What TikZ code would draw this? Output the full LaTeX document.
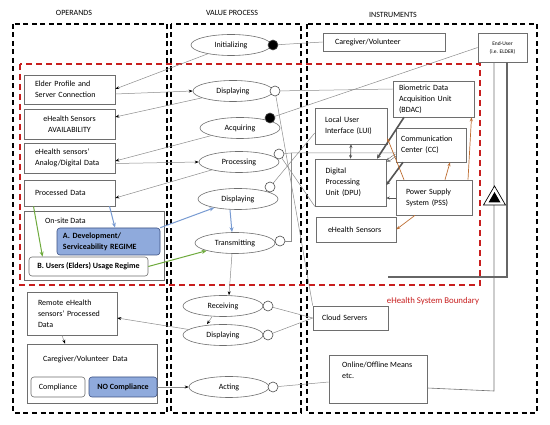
\documentclass[tikz,border=0pt]{standalone}
\usepackage{fontspec}
\setmainfont{Carlito}
\usetikzlibrary{shapes.geometric,arrows.meta}
\definecolor{boxline}{RGB}{110,110,110}
\definecolor{connline}{RGB}{140,140,140}
\definecolor{bluefill}{RGB}{143,170,220}
\definecolor{blueline}{RGB}{60,80,130}
\definecolor{bluearrow}{RGB}{120,155,210}
\definecolor{greenarrow}{RGB}{110,170,60}
\definecolor{brownarrow}{RGB}{190,110,50}
\definecolor{boundred}{RGB}{200,30,30}
\definecolor{thickgray}{RGB}{85,85,85}
\begin{document}
\begin{tikzpicture}[x=1pt,y=-1pt,
  font=\fontsize{8}{11}\selectfont,
  box/.style={draw=boxline, line width=0.6pt, fill=white, inner sep=0pt, rectangle},
  rbox/.style={box, rounded corners=3pt},
  bluebox/.style={rbox, fill=bluefill, draw=blueline, font=\fontsize{8}{11}\selectfont\bfseries},
  proc/.style={ellipse, draw=boxline, line width=0.6pt, fill=white, minimum width=80, minimum height=21, inner sep=0pt},
  port/.style={circle, draw=black!70, line width=0.6pt, fill=white, minimum size=10, inner sep=0pt},
  bport/.style={port, fill=black},
  grp/.style={draw=black, line width=1.6pt, dash pattern=on 5pt off 3.5pt},
  conn/.style={draw=connline, line width=0.5pt},
  arr/.style={conn, -{Stealth[black,length=4pt,width=3pt]}},
  barr/.style={draw=bluearrow, line width=1pt, -{Stealth[length=5pt,width=4pt]}},
  garr/.style={draw=greenarrow, line width=1pt, -{Stealth[length=5pt,width=4pt]}},
  brarr/.style={draw=brownarrow, line width=0.7pt, -{Stealth[length=4pt,width=3pt]}},
  thk/.style={draw=thickgray, line width=1.6pt},
  lbl/.style={inner sep=0pt}
]
\useasboundingbox (0,0) rectangle (550,425);
\fill[white] (0,0) rectangle (550,425);

% group boxes
\draw[grp] (13,24) rectangle (167,413);
\draw[grp] (171,24) rectangle (301,413);
\draw[grp] (307,24) rectangle (537,413);
\draw[draw=boundred, line width=1.6pt, dash pattern=on 6pt off 4pt] (20,64) rectangle (480,285);

\node[lbl] (hop) at (74,13) {OPERANDS};
\node[lbl] (hvp) at (232,13) {VALUE PROCESS};
\node[lbl] (hin) at (393,15) {INSTRUMENTS};
\node[lbl, text=boundred, font=\fontsize{8.8}{11}\selectfont] (hbound) at (433,301) {eHealth System Boundary};

% operands
\node[box, minimum width=91, minimum height=29, text width=69, align=left] (elder) at (69.5,89.5) {Elder Profile and\\Server Connection};
\node[box, minimum width=91, minimum height=30, align=center] (avail) at (69.5,124) {eHealth Sensors\\AVAILABILITY};
\node[box, minimum width=91, minimum height=30, text width=69, align=left] (adata) at (69.5,158) {eHealth sensors'\\Analog/Digital Data};
\node[box, minimum width=91, minimum height=26, text width=69, align=left] (pdata) at (69.5,193) {Processed Data};
\node[box, minimum width=140, minimum height=69] (onsite) at (94,245.5) {};
\node[lbl, anchor=west] (onsitelbl) at (45,221) {On-site Data};
\node[bluebox, minimum width=103, minimum height=27, text width=91, align=left] (devA) at (108.5,241.5) {A. Development/\\Serviceability REGIME};
\node[rbox, minimum width=119, minimum height=19, align=center, font=\fontsize{8}{11}\selectfont\bfseries] (users) at (88.5,266.5) {B. Users (Elders) Usage Regime};
\node[box, minimum width=90, minimum height=43, text width=68, align=left] (remote) at (72,313.5) {Remote eHealth\\sensors' Processed\\Data};
\node[box, minimum width=130, minimum height=59] (cgdata) at (92,373.5) {};
\node[lbl, anchor=west] (cgdatalbl) at (43,359) {Caregiver/Volunteer~ Data};
\node[rbox, minimum width=54, minimum height=20] (compl) at (58,387) {Compliance};
\node[bluebox, minimum width=68, minimum height=20] (nocompl) at (123,387) {NO Compliance};

% value process
\node[proc] (init) at (231,45) {Initializing};
\node[proc] (disp1) at (233,91) {Displaying};
\node[proc] (acq) at (240,128) {Acquiring};
\node[proc] (proc) at (239,162) {Processing};
\node[proc] (disp2) at (238,199) {Displaying};
\node[proc] (trans) at (235,243) {Transmitting};
\node[proc] (recv) at (223,306) {Receiving};
\node[proc] (disp3) at (223,335) {Displaying};
\node[proc] (act) at (229,387) {Acting};

\node[bport] (cinit) at (273,45) {};
\node[port] (cdisp1) at (275,91) {};
\node[bport] (cacq) at (270,118) {};
\node[port] (cproc) at (279,154) {};
\node[port] (cdisp2) at (270,187) {};
\node[port] (ctrans) at (280,241) {};
\node[port] (crecv) at (268,306) {};
\node[port] (cdisp3) at (268,335) {};
\node[port] (cact) at (273,387) {};

% instruments
\node[box, minimum width=122, minimum height=18, text width=98, align=left] (cg) at (384,42) {Caregiver/Volunteer};
\node[box, minimum width=49, minimum height=29, align=center, font=\fontsize{5.5}{8}\selectfont] (enduser) at (502.5,47.5) {End-User\\(i.e. ELDER)};
\node[box, minimum width=81, minimum height=36, text width=69, align=left] (bdac) at (433.5,99) {Biometric Data\\Acquisition Unit\\(BDAC)};
\node[box, minimum width=72, minimum height=36, text width=52, align=left] (lui) at (351,126) {Local User\\Interface (LUI)};
\node[box, minimum width=70, minimum height=34, text width=60, align=left] (cc) at (431,145) {Communication\\Center (CC)};
\node[box, minimum width=71, minimum height=47, text width=50, align=left] (dpu) at (350.5,182.5) {Digital\\Processing\\Unit (DPU)};
\node[box, minimum width=76, minimum height=35, text width=56, align=left] (pss) at (434,197.5) {Power Supply\\System (PSS)};
\node[box, minimum width=80, minimum height=25, text width=56, align=left] (sens) at (356,229.5) {eHealth Sensors};
\node[box, minimum width=75, minimum height=24, text width=57, align=left] (cloud) at (350.5,318) {Cloud Servers};
\node[box, minimum width=98, minimum height=48] (online) at (378,379) {};
\node[lbl, anchor=north west, align=left] (onlinelbl) at (342,362) {Online/Offline Means\\etc.};

% operand <-> process connectors
\draw[arr] (init) -- ([yshift=0.5]elder.east);
\draw[arr] ([yshift=-4.5]elder.east) -- (disp1.west);
\draw[arr] (disp1) -- ([yshift=7]avail.east);
\draw[arr] (acq) -- ([yshift=-3]adata.east);
\draw[arr] ([yshift=-5.5]adata.east) -- (proc.west);
\draw[arr] (proc) -- ([yshift=-5]pdata.east);
\draw[barr] ([xshift=40]pdata.south) -- ([xshift=6.5]devA.north);
\draw[barr] (devA.north east) -- (disp2);
\draw[barr] ([xshift=-8]disp2.south) -- ([xshift=-3]trans.north);
\draw[garr] ([xshift=-36]pdata.south) -- ([xshift=-46]users.north);
\draw[garr] (users.east) -- (trans);
\draw[arr] ([xshift=-3]trans.south) -- ([xshift=6]recv.north);
\draw[arr] ([xshift=-11]recv.south) -- ([xshift=-16]disp3.north);
\draw[arr] (disp3) -- ([yshift=-4.5]remote.east);
\draw[arr] ([xshift=-10]remote.south) -- ([xshift=-27]cgdata.north);
\draw[arr] (nocompl.east) -- (act.west);

% port <-> instrument connectors
\coordinate (tk) at (291,153);
\draw[conn] (cinit) -- (cg.west);
\draw[conn] (cdisp1) -- ([yshift=10]bdac.west);
\draw[conn] (cdisp1) -- (cloud.north west);
\draw[conn] (cacq) -- (enduser.west);
\draw[conn] (cproc) -- (tk) -- ([yshift=-8]cc.west);
\draw[conn] (cproc) -- (dpu.south west);
\draw[conn] (cdisp2) -- ([yshift=-7]lui.west);
\draw[conn] (ctrans.east) -| (tk);
\draw[conn] (crecv) -- (cloud.west);
\draw[conn] (cdisp3) -- (cloud.west);
\draw[conn] (cact) -- ([yshift=-3]online.west);

% instrument internals
\draw[draw=thickgray, line width=0.8pt, {Stealth[length=3.5pt,width=3pt]}-{Stealth[length=3.5pt,width=3pt]}] (lui.south) -- (dpu.north);
\draw[thk, -{Stealth[length=4pt,width=4pt]}] ([xshift=-29.5]bdac.south) -- ([xshift=26.5]dpu.north);
\draw[thk, -{Stealth[length=4pt,width=4pt]}] ([xshift=-28]cc.south) -- ([yshift=-2.5]dpu.east);
\draw[draw=thickgray, line width=0.5pt, double=white, double distance=1.6pt, -{Stealth[length=4pt,width=5pt,open]}] ([yshift=-10]cc.west) -- ([yshift=-3]dpu.north east);
\draw[draw=thickgray, line width=0.7pt, -{Stealth[length=3.5pt,width=3pt]}] ([yshift=-0.5]pss.west) -- ([yshift=-15.5]dpu.east);
\draw[brarr] ([xshift=11]pss.north) -- ([xshift=19]cc.south);
\draw[brarr] ([xshift=34]pss.north) -- ([xshift=38]bdac.south);
\draw[brarr] ([xshift=-19]pss.south) -- (sens.east);
\draw[brarr] ([xshift=-30]pss.north) -- ([yshift=-12]lui.east);

% end-user lines
\coordinate (eu1) at (494,391);
\coordinate (eu2) at (507,277);
\coordinate (eu3) at (388,277);
\draw[conn, draw=black!55, line width=0.6pt] ([xshift=-8.5]enduser.south) -- (eu1) -- ([yshift=-9]online.east);
\draw[thk, draw=black!60] ([xshift=4.5]enduser.south) -- (eu2) -- (eu3);
\draw[fill=white, draw=black, line width=0.7pt] (483.5,205) -- (505.5,205) -- (494.5,186) -- cycle;
\fill[black] (488.5,202.5) -- (500.5,202.5) -- (494.5,192) -- cycle;
\end{tikzpicture}
\end{document}
